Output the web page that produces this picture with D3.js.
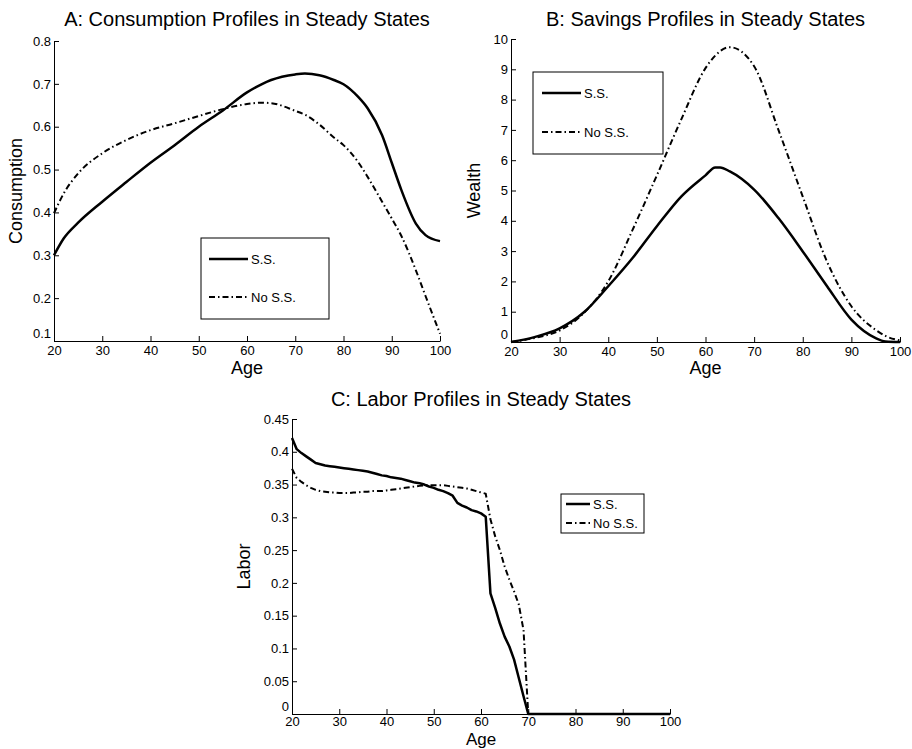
<!DOCTYPE html>
<html>
<head>
<meta charset="utf-8">
<script src="https://cdn.jsdelivr.net/npm/d3@7/dist/d3.min.js"></script>
<style>
html,body{margin:0;padding:0;background:#fff;}
svg{display:block;font-family:"Liberation Sans",Arial,Helvetica,sans-serif;}
.tick text{font-size:13px;fill:#000;}
.tick line,.domain{stroke:#000;stroke-width:1;}
</style>
</head>
<body>
<svg id="chart" width="912" height="749"></svg>
<script>
// ---------- Data ----------
const seriesNames = ["S.S.", "No S.S."];

// Panel A: consumption
const agesA = [20,22,25,30,35,40,45,50,55,60,63,65,70,72,75,78,80,83,85,88,90,92,95,97,100];
const consSS = [0.300,0.339,0.376,0.425,0.471,0.516,0.557,0.600,0.638,0.680,0.699,0.709,0.722,0.724,0.720,0.709,0.699,0.670,0.643,0.580,0.516,0.452,0.374,0.347,0.333];
const consNo = [0.398,0.444,0.491,0.538,0.569,0.592,0.608,0.625,0.641,0.653,0.656,0.655,0.637,0.628,0.605,0.575,0.557,0.518,0.483,0.425,0.386,0.345,0.265,0.205,0.117];

// Panel B: wealth
const agesB = [20,25,30,35,40,45,50,55,60,62,63,65,70,75,80,85,90,95,97,100];
const wealthSS = [0.00,0.17,0.45,0.98,1.84,2.77,3.82,4.80,5.50,5.76,5.76,5.63,5.03,4.09,2.99,1.84,0.74,0.13,0.02,0.00];
const wealthNo = [0.00,0.14,0.38,0.96,2.00,3.70,5.50,7.34,9.04,9.45,9.60,9.73,9.10,7.00,4.80,2.65,1.18,0.40,0.20,0.05];

// Panel C: labor
const agesC = [20,21,22,23,24,25,26,27,28,29,30,31,32,33,34,35,36,37,38,39,40,41,42,43,44,45,46,47,48,49,50,51,52,53,54,55,56,57,58,59,60,61,62,63,64,65,66,67,68,69,70,100];
const laborSS = [0.421,0.404,0.398,0.393,0.388,0.383,0.381,0.379,0.378,0.377,0.376,0.375,0.374,0.373,0.372,0.371,0.370,0.368,0.366,0.364,0.363,0.361,0.360,0.359,0.357,0.355,0.353,0.352,0.350,0.347,0.345,0.342,0.340,0.337,0.333,0.322,0.318,0.315,0.311,0.309,0.306,0.301,0.184,0.162,0.138,0.118,0.103,0.083,0.055,0.027,0.000,0.000];
const laborNo = [0.374,0.360,0.354,0.349,0.345,0.342,0.340,0.339,0.338,0.338,0.337,0.337,0.337,0.338,0.338,0.339,0.339,0.340,0.340,0.340,0.341,0.342,0.343,0.344,0.345,0.346,0.347,0.348,0.349,0.349,0.349,0.349,0.349,0.348,0.347,0.346,0.345,0.344,0.342,0.340,0.338,0.336,0.297,0.271,0.250,0.225,0.205,0.187,0.167,0.128,0.000,0.000];

const xTicks = [20,30,40,50,60,70,80,90,100];
const yTicksA = [0.1,0.2,0.3,0.4,0.5,0.6,0.7,0.8];
const yTicksB = [0,1,2,3,4,5,6,7,8,9,10];
const yTicksC = [0,0.05,0.1,0.15,0.2,0.25,0.3,0.35,0.4,0.45];

// ---------- Drawing ----------
const svg = d3.select("#chart");
const font = '"Liberation Sans",Arial,Helvetica,sans-serif';

const panels = [
  {title:"A: Consumption Profiles in Steady States", ylabel:"Consumption",
   x0:54, x1:440, y0:341, y1:41, ydom:[0.1,0.8], yt:yTicksA, yfmt:d3.format(".1f"),
   ages:agesA, s1:consSS, s2:consNo, curve:d3.curveMonotoneX,
   titleY:26, xlabY:374, xlabSize:18, tickPad:5, ylabX:22,
   leg:{x:201,y:238,w:128,h:81,l1:259,l2:297,lx0:209,lx1:248}},
  {title:"B: Savings Profiles in Steady States", ylabel:"Wealth",
   x0:511, x1:900, y0:342, y1:39, ydom:[0,10], yt:yTicksB, yfmt:d3.format("d"),
   ages:agesB, s1:wealthSS, s2:wealthNo, curve:d3.curveMonotoneX,
   titleY:26, xlabY:374, xlabSize:18, tickPad:5, ylabX:480,
   leg:{x:533,y:72,w:130,h:82,l1:93,l2:132,lx0:542,lx1:581}},
  {title:"C: Labor Profiles in Steady States", ylabel:"Labor",
   x0:292, x1:670, y0:714, y1:419, ydom:[0,0.45], yt:yTicksC, yfmt:d => d===0?"0":String(d),
   ages:agesC, s1:laborSS, s2:laborNo, curve:d3.curveLinear,
   titleY:406, xlabY:745, xlabSize:17, tickPad:3, ylabX:250,
   leg:{x:561,y:494,w:83,h:39,l1:504,l2:523,lx0:566,lx1:590}}
];

panels.forEach(p => {
  const x = d3.scaleLinear().domain([20,100]).range([p.x0,p.x1]);
  const y = d3.scaleLinear().domain(p.ydom).range([p.y0,p.y1]);
  const g = svg.append("g");

  // lines
  const data1 = p.ages.map((a,i)=>[a,p.s1[i]]);
  const data2 = p.ages.map((a,i)=>[a,p.s2[i]]);
  const line = d3.line().x(d=>x(d[0])).y(d=>y(d[1])).curve(p.curve);
  g.append("path").attr("d", line(data2)).attr("fill","none")
    .attr("stroke","#000").attr("stroke-width",2).attr("stroke-dasharray","6,3,1.5,3");
  g.append("path").attr("d", line(data1)).attr("fill","none")
    .attr("stroke","#000").attr("stroke-width",2.5).attr("stroke-linejoin","round");

  // axes (MATLAB style, ticks inward)
  g.append("g").attr("transform",`translate(0,${p.y0})`)
    .call(d3.axisBottom(x).tickValues(xTicks).tickSizeInner(-5).tickSizeOuter(0).tickPadding(p.tickPad).tickFormat(d3.format("d")))
    .call(a=>a.selectAll("text").attr("font-family",font).attr("dy","0.72em"));
  g.append("g").attr("transform",`translate(${p.x0},0)`)
    .call(d3.axisLeft(y).tickValues(p.yt).tickSizeInner(-5).tickSizeOuter(0).tickPadding(3).tickFormat(p.yfmt))
    .call(a=>a.selectAll("text").attr("font-family",font)
      .attr("dy",(d,i)=> i===0 ? "-0.25em" : "0.32em"));

  // title
  g.append("text").attr("x",(p.x0+p.x1)/2).attr("y",p.titleY)
    .attr("text-anchor","middle").attr("font-size",20).attr("font-family",font).text(p.title);
  // x label
  g.append("text").attr("x",(p.x0+p.x1)/2).attr("y",p.xlabY)
    .attr("text-anchor","middle").attr("font-size",p.xlabSize).attr("font-family",font).text("Age");
  // y label
  g.append("text").attr("transform",`translate(${p.ylabX},${(p.y0+p.y1)/2}) rotate(-90)`)
    .attr("text-anchor","middle").attr("font-size",18).attr("font-family",font).text(p.ylabel);

  // legend
  const L = p.leg;
  g.append("rect").attr("x",L.x).attr("y",L.y).attr("width",L.w).attr("height",L.h)
    .attr("fill","#fff").attr("stroke","#000").attr("stroke-width",1);
  g.append("line").attr("x1",L.lx0).attr("x2",L.lx1).attr("y1",L.l1).attr("y2",L.l1)
    .attr("stroke","#000").attr("stroke-width",2.5);
  g.append("line").attr("x1",L.lx0).attr("x2",L.lx1).attr("y1",L.l2).attr("y2",L.l2)
    .attr("stroke","#000").attr("stroke-width",2).attr("stroke-dasharray","6,3,1.5,3");
  g.append("text").attr("x",L.lx1+3).attr("y",L.l1).attr("dy","0.35em")
    .attr("font-size",13).attr("font-family",font).text(seriesNames[0]);
  g.append("text").attr("x",L.lx1+3).attr("y",L.l2).attr("dy","0.35em")
    .attr("font-size",13).attr("font-family",font).text(seriesNames[1]);
});
</script>
</body>
</html>
